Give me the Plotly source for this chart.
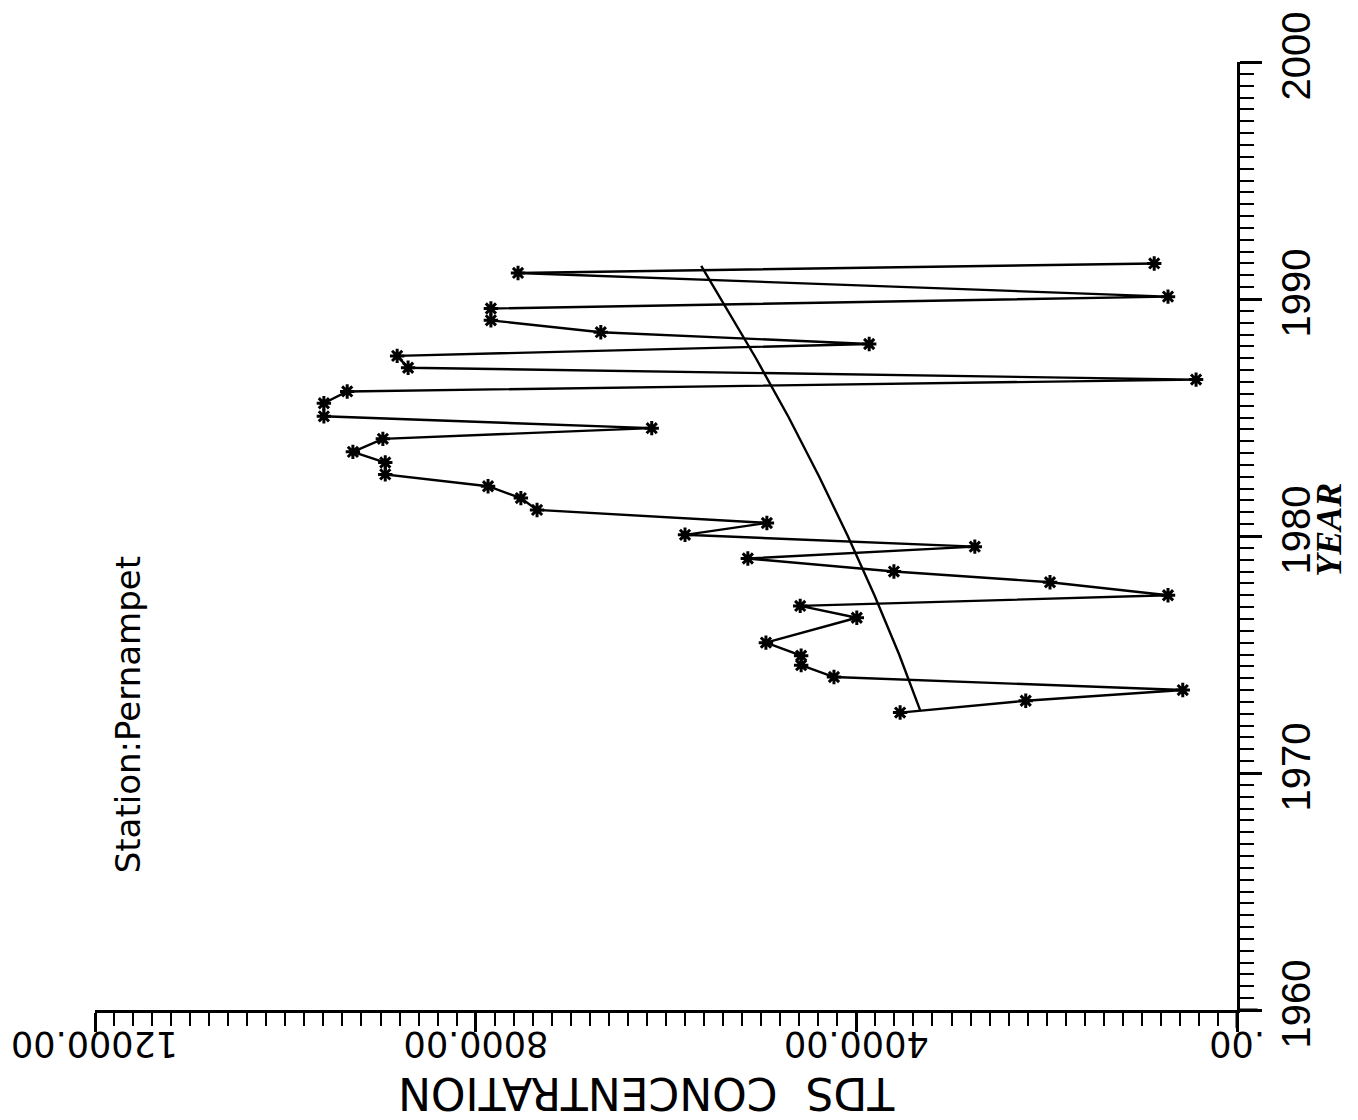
import plotly.graph_objects as go

# TDS concentration record for the station (semi-annual samples)
years = [1972.55, 1973.05, 1973.5, 1974.05, 1974.55, 1974.95, 1975.5, 1976.55,
         1977.05, 1977.5, 1978.05, 1978.5, 1979.05, 1979.55, 1980.05, 1980.55,
         1981.1, 1981.6, 1982.1, 1982.6, 1983.1, 1983.55, 1984.1, 1984.55,
         1985.05, 1985.6, 1986.1, 1986.6, 1987.1, 1987.6, 1988.1, 1988.6,
         1989.1, 1989.6, 1990.1, 1991.1, 1991.5]
tds = [3540, 2220, 570, 4235, 4580, 4580, 4950, 3995,
       4590, 725, 1965, 3605, 5140, 2755, 5800, 4940,
       7355, 7525, 7870, 8950, 8950, 9290, 8975, 6150,
       9595, 9595, 9350, 430, 8710, 8825, 3865, 6685,
       7840, 7840, 725, 7555, 870]

# fitted trend curve
trend_years = [1972.65, 1975.0, 1977.5, 1980.0, 1982.5, 1985.0, 1987.5, 1990.0, 1991.4]
trend_tds = [3330, 3550, 3810, 4090, 4390, 4710, 5055, 5420, 5630]

conc_ticks = [0, 4000, 8000, 12000]
conc_labels = [".00", "4000.00", "8000.00", "12000.00"]
year_ticks = [1960, 1970, 1980, 1990, 2000]

station = "Station:Pernampet"
x_title = "TDS  CONCENTRATION"
y_title = "YEAR"

fig = go.Figure()

fig.add_trace(go.Scatter(
    x=tds, y=years, mode="lines+markers",
    line=dict(color="black", width=2.4),
    marker=dict(symbol="asterisk", size=12, color="black",
                line=dict(color="black", width=3)),
    showlegend=False,
))

fig.add_trace(go.Scatter(
    x=trend_tds, y=trend_years, mode="lines",
    line=dict(color="black", width=2.4),
    showlegend=False,
))

axis_font = dict(family="Liberation Sans", size=40, color="black")

fig.update_layout(
    width=1358, height=1120, autosize=False,
    margin=dict(l=95, r=121, t=52, b=110, pad=0),
    paper_bgcolor="white", plot_bgcolor="white",
    xaxis=dict(
        range=[12000, 0], showgrid=False, zeroline=False,
        showline=True, linecolor="black", linewidth=3,
        ticks="outside", tickvals=conc_ticks, ticklen=19, tickwidth=2.5,
        tickcolor="black", showticklabels=False,
        minor=dict(dtick=200, tick0=0, ticks="outside", ticklen=13,
                   tickwidth=2, tickcolor="black", showgrid=False),
    ),
    yaxis=dict(
        range=[1960, 2000], side="right", showgrid=False, zeroline=False,
        showline=True, linecolor="black", linewidth=3,
        ticks="outside", tickvals=year_ticks, ticklen=22, tickwidth=2.5,
        tickcolor="black", tickangle=-90, tickfont=axis_font,
        minor=dict(dtick=0.5, tick0=1960, ticks="outside", ticklen=14,
                   tickwidth=2, tickcolor="black", showgrid=False),
    ),
)

# concentration tick labels, printed upside down
for v, lab in zip(conc_ticks, conc_labels):
    fig.add_annotation(
        x=v, xref="x", y=0, yref="paper", yanchor="top", xanchor="center",
        yshift=-12, text=lab, showarrow=False, textangle=180,
        font=dict(family="DejaVu Sans", size=35, color="black"),
    )

# axis titles
fig.add_annotation(
    x=0.483, xref="paper", y=0, yref="paper", yanchor="top", xanchor="center",
    yshift=-56, text=x_title, showarrow=False, textangle=180,
    font=dict(family="DejaVu Sans", size=44, color="black"),
)
fig.add_annotation(
    x=1, xref="paper", y=0.5065, yref="paper", xanchor="center", yanchor="middle",
    xshift=92, text="<b><i>" + y_title + "</i></b>", showarrow=False, textangle=-90,
    font=dict(family="Liberation Serif", size=36, color="black"),
)

# station name
fig.add_annotation(
    x=0.029, xref="paper", y=0.311, yref="paper", xanchor="center", yanchor="middle",
    text=station, showarrow=False, textangle=-90,
    font=dict(family="DejaVu Sans", size=34, color="black"),
)

# axis lines running past the origin corner
fig.add_shape(type="line", xref="x", yref="paper", x0=0, x1=0, y0=0, y1=-0.019,
              line=dict(color="black", width=3))
fig.add_shape(type="line", xref="paper", yref="y", x0=1, x1=1.018, y0=1960, y1=1960,
              line=dict(color="black", width=3))

fig.write_html("out.html")
